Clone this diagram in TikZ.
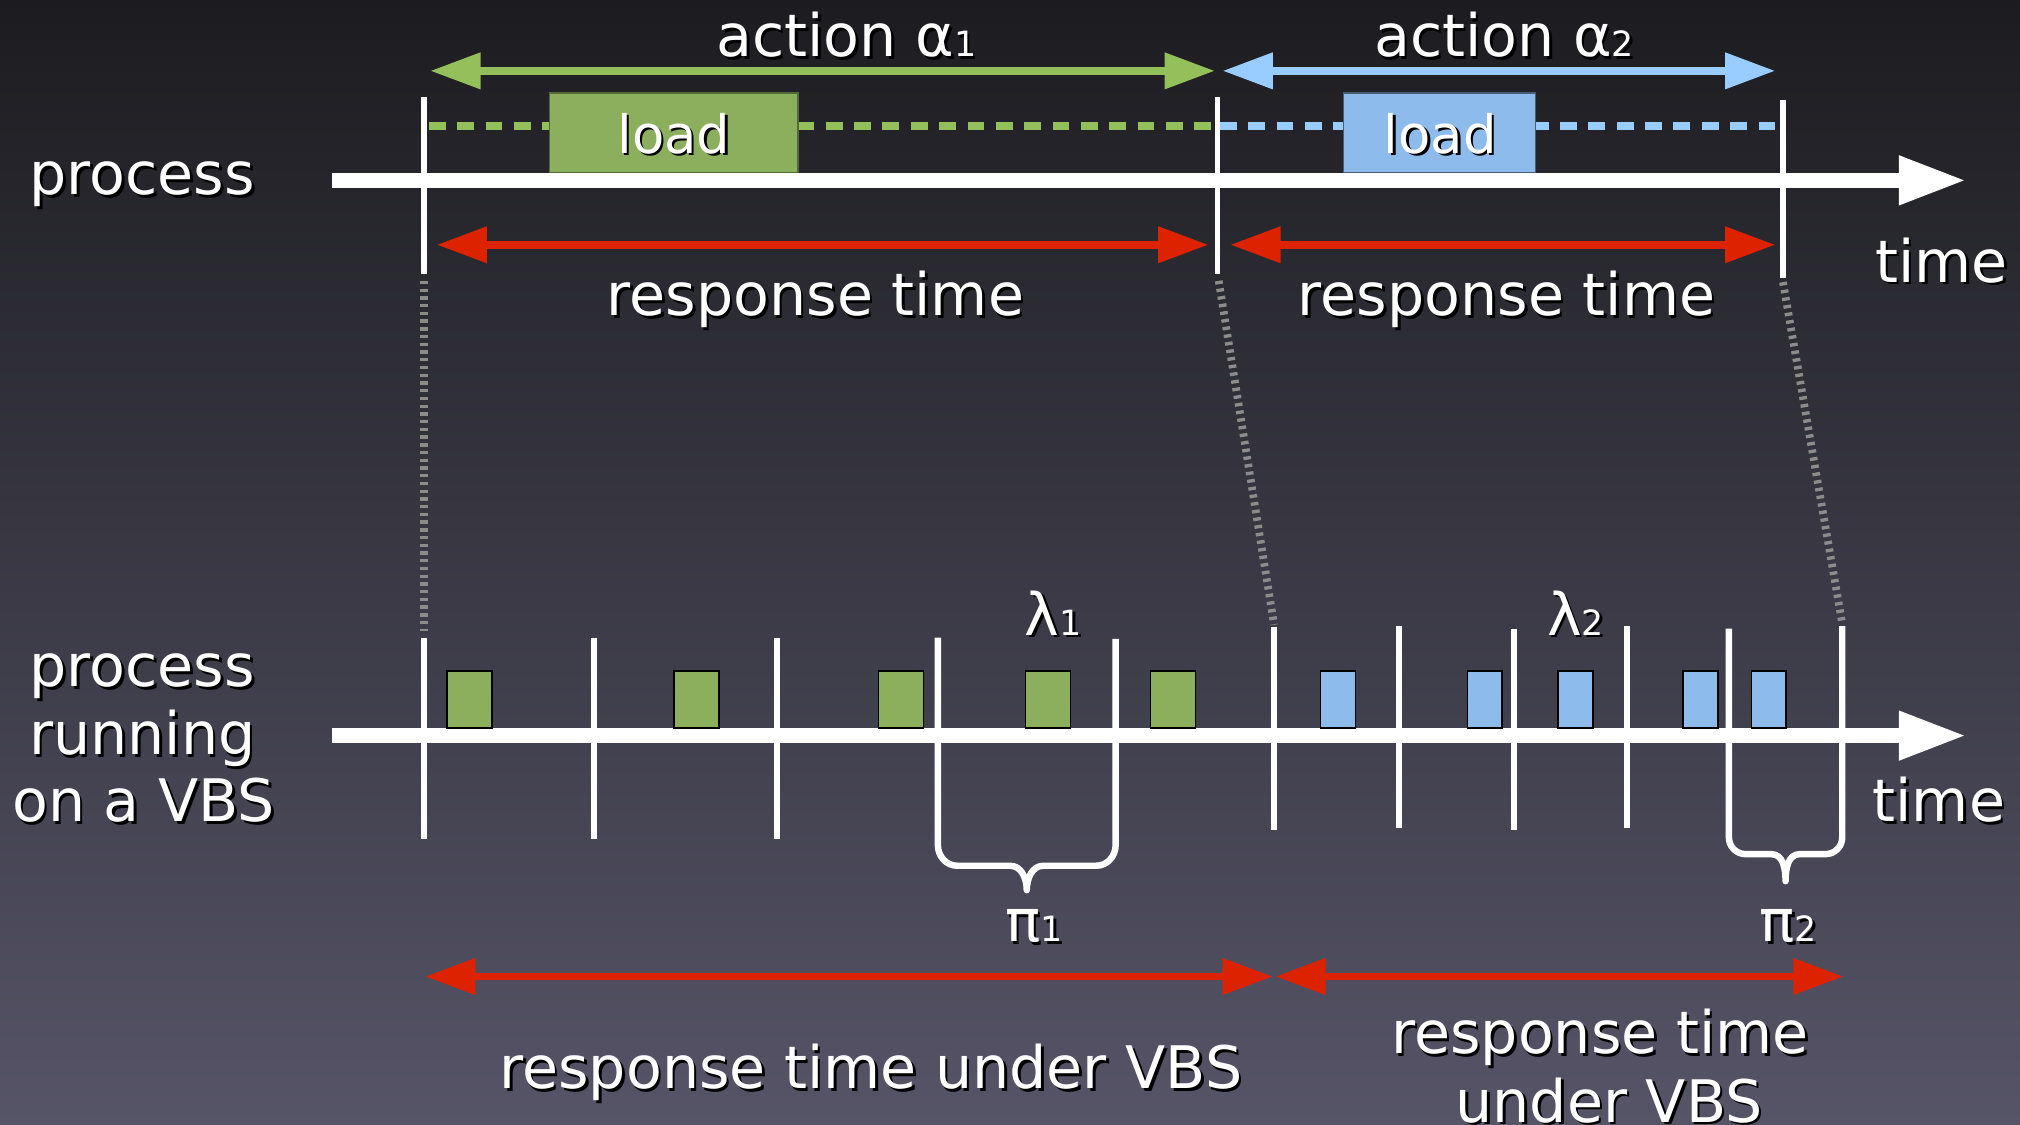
\documentclass[tikz,border=0pt]{standalone}
\usepackage{fontspec}
\setmainfont{DejaVu Sans}
\usetikzlibrary{arrows.meta}
\definecolor{bgtop}{RGB}{28,28,32}
\definecolor{bgbot}{RGB}{86,84,103}
\definecolor{agreen}{RGB}{148,192,92}
\definecolor{bgreen}{RGB}{139,175,92}
\definecolor{ablue}{RGB}{153,204,255}
\definecolor{bblue}{RGB}{141,188,236}
\definecolor{ared}{RGB}{221,34,0}
\definecolor{dgray}{RGB}{140,140,140}
\newcommand\bigfont{\fontsize{45.5}{52.5}\selectfont}
\newcommand\loadfont{\fontsize{41}{41}\selectfont}
\newcommand\subf[1]{{\fontsize{27}{27}\selectfont #1}}
\newcommand\shlbl[4][]{%
  \node[lbl,#1,text=black] at ([shift={(2pt,-2pt)}]#3) {#4};
  \node[lbl,#1] (#2) at (#3) {#4};}
\tikzset{
  lbl/.style={font=\bigfont, text=white, anchor=base, inner sep=0pt},
  timeline/.style={white, line width=12pt, -{Triangle[length=53pt,width=35pt]}},
  tickline/.style={white, line width=4.5pt},
  dbl/.style={line width=6pt, {Triangle[length=39pt,width=27pt]}-{Triangle[length=39pt,width=27pt]}},
  sqdash/.style={line width=6pt, dash pattern=on 13pt off 9pt},
  gconn/.style={dgray, line width=6pt, dash pattern=on 2.6pt off 3.4pt},
  loadbox/.style={minimum height=62pt, inner sep=0pt, draw, line width=1.2pt},
  blk/.style={draw=black, line width=1.2pt, inner sep=0pt, minimum height=44pt},
  brace/.style={white, line width=5pt, line join=round},
}
\begin{document}
\begin{tikzpicture}[x=1pt,y=-1pt]
\useasboundingbox (0,0) rectangle (1568,873.2);
\clip (0,0) rectangle (1568,873.2);
\shade[top color=bgtop, bottom color=bgbot] (0,0) rectangle (1568,873.2);

% ---------- top timeline ----------
\coordinate (tlS) at (258,140);
\coordinate (tlE) at (1527,140);
\draw[timeline] (tlS) -- (tlE);

\coordinate (T1a) at (329,75);   \coordinate (T1b) at (329,213);
\coordinate (T2a) at (945,75);   \coordinate (T2b) at (945,213);
\coordinate (T3a) at (1384,78);  \coordinate (T3b) at (1384,216);

% dashed load lines
\coordinate (dg1) at (333,98);  \coordinate (dg2) at (943,98);
\coordinate (db1) at (947,98);  \coordinate (db2) at (1382,98);
\draw[sqdash, agreen] (dg1) -- (dg2);
\draw[sqdash, ablue] (db1) -- (db2);

\node[loadbox, fill=bgreen, draw=bgreen!60!black, minimum width=193pt] (lb1) at (523,103) {};
\node[loadbox, fill=bblue, draw=bblue!50!black, minimum width=149pt] (lb2) at (1117.5,103) {};
\shlbl[font=\loadfont]{load1}{523,119}{load}
\shlbl[font=\loadfont]{load2}{1118,119}{load}

\foreach \a/\b in {T1a/T1b,T2a/T2b,T3a/T3b} \draw[tickline] (\a) -- (\b);

% action arrows
\coordinate (ag1) at (334,55);  \coordinate (ag2) at (943,55);
\coordinate (ab1) at (949,55);  \coordinate (ab2) at (1378,55);
\draw[dbl, agreen] (ag1) -- (ag2);
\draw[dbl, ablue] (ab1) -- (ab2);
\shlbl{act1}{657,44}{action α\subf{1}}
\shlbl{act2}{1167.5,44}{action α\subf{2}}

% response time arrows
\coordinate (r1a) at (339,190);  \coordinate (r1b) at (938,190);
\coordinate (r2a) at (955,190);  \coordinate (r2b) at (1378,190);
\draw[dbl, ared] (r1a) -- (r1b);
\draw[dbl, ared] (r2a) -- (r2b);
\shlbl{rt1}{633,245}{response time}
\shlbl{rt2}{1169.5,245}{response time}

\shlbl{procT}{110.5,151}{process}
\shlbl{timeT}{1507,219}{time}

% ---------- bottom timeline ----------
\coordinate (blS) at (258,571);
\coordinate (blE) at (1527,571);
\draw[timeline] (blS) -- (blE);

% blocks
\foreach \x [count=\i] in {364.5,540.5,699.5,813.5,910.5}
  \node[blk, fill=bgreen, minimum width=35pt] (g\i) at (\x,543) {};
\foreach \x [count=\i] in {1038.5,1152.5,1223,1320,1373}
  \node[blk, fill=bblue, minimum width=27pt] (bb\i) at (\x,543) {};

% ticks
\foreach \n/\x/\ya/\yb in {b1/329/495/651, b2/461/495/651, b3/603/495/651,
    b6/989/487/644, b7/1086/486/643, b8/1175/488/644, b9/1263/486/643} {
  \coordinate (\n a) at (\x,\ya);
  \coordinate (\n b) at (\x,\yb);
  \draw[tickline] (\n a) -- (\n b);
}
\coordinate (b4a) at (728,495);  \coordinate (b5a) at (866,496);
\coordinate (b10a) at (1342,488); \coordinate (b11a) at (1430,486);
\coordinate (cusp1) at (797,691);
\coordinate (cusp2) at (1386,684);

% braces
\draw[brace] (b4a) -- (728,656) to[out=-90,in=180] (743,672) -- (784,672)
  to[out=0,in=90] (cusp1) to[out=90,in=180] (810,672) -- (851,672)
  to[out=0,in=-90] (866,656) -- (b5a);
\draw[brace] (b10a) -- (1342,650) to[out=-90,in=180] (1355,663) -- (1375,663)
  to[out=0,in=90] (cusp2) to[out=90,in=180] (1397,663) -- (1417,663)
  to[out=0,in=-90] (1430,650) -- (b11a);

% gray connectors
\coordinate (c1a) at (329,218);  \coordinate (c1b) at (329,490);
\coordinate (c2a) at (946,218);  \coordinate (c2b) at (989,485);
\coordinate (c3a) at (1384,219); \coordinate (c3b) at (1430,484);
\draw[gconn] (c1a) -- (c1b);
\draw[gconn] (c2a) -- (c2b);
\draw[gconn] (c3a) -- (c3b);

\shlbl{lam1}{817.5,493}{λ\subf{1}}
\shlbl{lam2}{1223,493}{λ\subf{2}}
\shlbl{pi1}{802.5,731}{π\subf{1}}
\shlbl{pi2}{1388,731}{π\subf{2}}

\shlbl{procB}{110.5,533}{process}
\shlbl{runB}{110.5,586}{running}
\shlbl{vbsB}{111.5,638}{on a VBS}
\shlbl{timeB}{1505,638}{time}

% bottom response arrows
\coordinate (v1a) at (330,758);  \coordinate (v1b) at (988,758);
\coordinate (v2a) at (990,758);  \coordinate (v2b) at (1431,758);
\draw[dbl, ared] (v1a) -- (v1b);
\draw[dbl, ared] (v2a) -- (v2b);
\shlbl{rtv1}{676,845}{response time under VBS}
\shlbl{rtv2a}{1242,818}{response time}
\shlbl{rtv2b}{1249,871}{under VBS}
\end{tikzpicture}
\end{document}
